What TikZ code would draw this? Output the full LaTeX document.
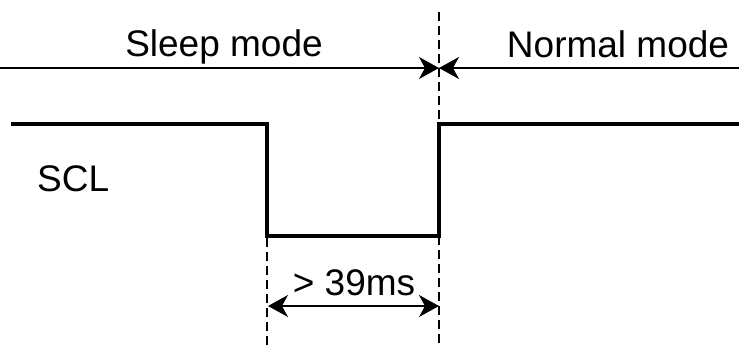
\documentclass[tikz,border=0pt]{standalone}
\usepackage{fontspec}
\setmainfont{Liberation Sans}
\usetikzlibrary{arrows.meta}
\tikzset{
  signal/.style={line width=3.5pt, line cap=rect},
  marker/.style={line width=2pt, dash pattern=on 9pt off 5pt},
  dimline/.style={line width=1.3pt},
  head/.tip={Stealth[length=20pt, width=22pt, inset=6pt]},
  caption/.style={font=\fontsize{37}{42}\selectfont, inner sep=0pt, anchor=base}
}
\begin{document}
\begin{tikzpicture}[x=1pt, y=-1pt]
          \useasboundingbox (0, 0) rectangle (739, 345);
          % mode boundary and time marks
          \coordinate (wake) at (439, 68);
          \coordinate (fall) at (267, 124);
          \coordinate (rise) at (439, 124);
          \draw[marker] (439, 12) -- (439, 345);
          \draw[marker] (267, 238) -- (267, 345);
          \draw[dimline, -head] (0, 68) -- (wake);
          \draw[dimline, -head] (739, 68) -- (wake);
          \node[caption] (sleep) at (224, 57) {Sleep mode};
          \node[caption] (normal) at (618, 58) {Normal mode};
          % SCL waveform
          \draw[signal] (13, 124) -- (fall) -- (267, 236) -- (439, 236) -- (rise) -- (737, 124);
          \node[caption, anchor=base west] (scl) at (37, 191) {SCL};
          % minimum low time
          \coordinate (lowa) at (268, 306);
          \coordinate (lowb) at (439, 306);
          \draw[dimline, head-head] (lowa) -- (lowb);
          \node[caption] (tlow) at (354, 295) {> 39ms};
        \end{tikzpicture}
\end{document}
